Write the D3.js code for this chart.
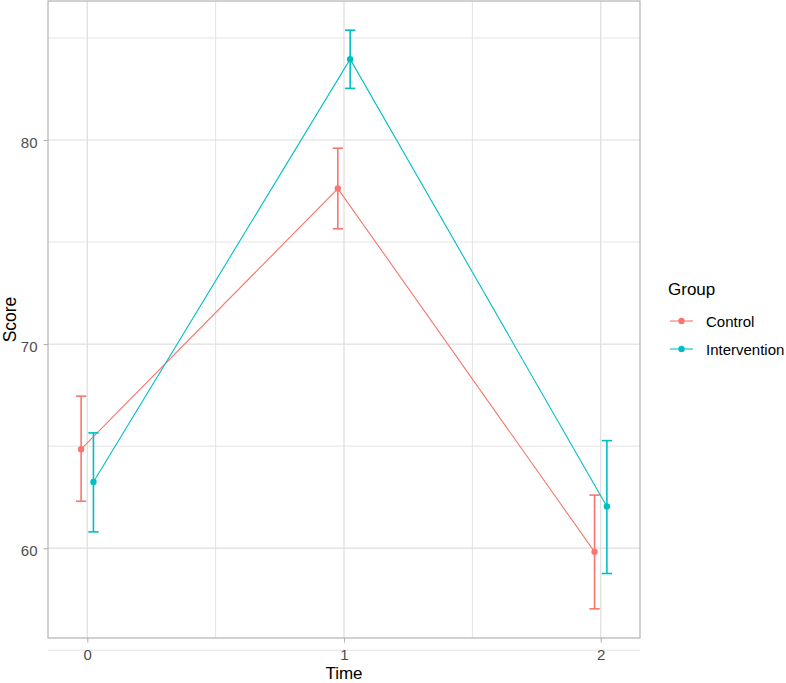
<!DOCTYPE html>
<html><head><meta charset="utf-8">
<script src="https://cdn.jsdelivr.net/npm/d3@7"></script>
<style>body{margin:0;background:#fff}svg{display:block;font-family:"Liberation Sans",Arial,sans-serif}</style>
</head><body><svg id="c" width="786" height="683"></svg>
<script>
const groups = ["Control", "Intervention"];
const colors = ["#F8766D", "#00BFC4"];
const times = [0, 1, 2];
const controlMean = [64.85, 77.62, 59.82];
const controlLow = [62.3, 75.65, 57.03];
const controlHigh = [67.45, 79.6, 62.6];
const interventionMean = [63.24, 83.96, 62.04];
const interventionLow = [60.8, 82.53, 58.76];
const interventionHigh = [65.65, 85.38, 65.27];
const yTicks = [60, 70, 80];
const yMinor = [55, 65, 75, 85];
const xTicks = [0, 1, 2];
const xMinor = [0.5, 1.5];

const series = [
  {name: groups[0], color: colors[0], mean: controlMean, lo: controlLow, hi: controlHigh, dodge: -0.024},
  {name: groups[1], color: colors[1], mean: interventionMean, lo: interventionLow, hi: interventionHigh, dodge: 0.024}
];

const svg = d3.select("#c");
const L = 48, R = 640, T = 1, B = 638;
const x = d3.scaleLinear().domain([-0.153, 2.153]).range([L, R]);
const y = d3.scaleLinear().domain([55.6, 86.81]).range([B, T]);

const grid = svg.append("g");
grid.selectAll(".ym").data(yMinor).join("line").attr("x1", L).attr("x2", R)
  .attr("y1", d => y(d)).attr("y2", d => y(d)).attr("stroke", "#E4E4E4").attr("stroke-width", 1);
grid.selectAll(".xm").data(xMinor).join("line").attr("y1", T).attr("y2", B)
  .attr("x1", d => x(d)).attr("x2", d => x(d)).attr("stroke", "#E4E4E4").attr("stroke-width", 1);
grid.selectAll(".yM").data(yTicks).join("line").attr("x1", L).attr("x2", R)
  .attr("y1", d => y(d)).attr("y2", d => y(d)).attr("stroke", "#DEDEDE").attr("stroke-width", 1.2);
grid.selectAll(".xM").data(xTicks).join("line").attr("y1", T).attr("y2", B)
  .attr("x1", d => x(d)).attr("x2", d => x(d)).attr("stroke", "#DEDEDE").attr("stroke-width", 1.2);

const capW = 0.02;
series.forEach(s => {
  const pts = times.map((t, i) => ({t: t + s.dodge, m: s.mean[i], lo: s.lo[i], hi: s.hi[i]}));
  const g = svg.append("g");
  g.append("path").datum(pts)
    .attr("d", d3.line().x(d => x(d.t)).y(d => y(d.m)))
    .attr("fill", "none").attr("stroke", s.color).attr("stroke-width", 1.1);
  const eb = g.selectAll(".eb").data(pts).join("g").attr("stroke", s.color).attr("stroke-width", 1.6);
  eb.append("line").attr("x1", d => x(d.t)).attr("x2", d => x(d.t)).attr("y1", d => y(d.lo)).attr("y2", d => y(d.hi));
  eb.append("line").attr("x1", d => x(d.t - capW)).attr("x2", d => x(d.t + capW)).attr("y1", d => y(d.lo)).attr("y2", d => y(d.lo));
  eb.append("line").attr("x1", d => x(d.t - capW)).attr("x2", d => x(d.t + capW)).attr("y1", d => y(d.hi)).attr("y2", d => y(d.hi));
  g.selectAll("circle").data(pts).join("circle").attr("cx", d => x(d.t)).attr("cy", d => y(d.m))
    .attr("r", 3.2).attr("fill", s.color);
});

svg.append("rect").attr("x", L).attr("y", T).attr("width", R - L).attr("height", B - T)
  .attr("fill", "none").attr("stroke", "#B3B3B3").attr("stroke-width", 1.2);

const yAxis = svg.append("g").attr("transform", `translate(${L},0)`)
  .call(d3.axisLeft(y).tickValues(yTicks).tickSize(4.5).tickSizeOuter(0).tickPadding(6).tickFormat(d3.format("d")));
const xAxis = svg.append("g").attr("transform", `translate(0,${B})`)
  .call(d3.axisBottom(x).tickValues(xTicks).tickSize(4.5).tickSizeOuter(0).tickPadding(7).tickFormat(d3.format("d")));
[yAxis, xAxis].forEach(a => {
  a.selectAll("path").remove();
  a.attr("font-size", null).attr("font-family", null);
  a.selectAll(".tick line").attr("stroke", "#B3B3B3").attr("stroke-width", 1.1);
  a.selectAll(".tick text").attr("fill", "#4D4D4D").style("font-size", "15px");
});
yAxis.selectAll(".tick text").attr("dy", "0.48em");

svg.append("text").attr("x", (L + R) / 2).attr("y", 678.5).attr("text-anchor", "middle")
  .style("font-size", "17px").attr("fill", "#000").text("Time");
svg.append("text").attr("transform", `translate(16,${(T + B) / 2}) rotate(-90)`).attr("text-anchor", "middle")
  .style("font-size", "17.5px").attr("fill", "#000").text("Score");

const leg = svg.append("g");
leg.append("text").attr("x", 668).attr("y", 295).style("font-size", "17px").attr("fill", "#000").text("Group");
series.forEach((s, i) => {
  const cy = 321 + i * 28;
  leg.append("line").attr("x1", 670).attr("x2", 693).attr("y1", cy).attr("y2", cy).attr("stroke", s.color).attr("stroke-width", 1.1);
  leg.append("circle").attr("cx", 681.5).attr("cy", cy).attr("r", 3.2).attr("fill", s.color);
  leg.append("text").attr("x", 706).attr("y", cy + 5.5).style("font-size", "15px").attr("fill", "#000").text(s.name);
});
</script></body></html>
